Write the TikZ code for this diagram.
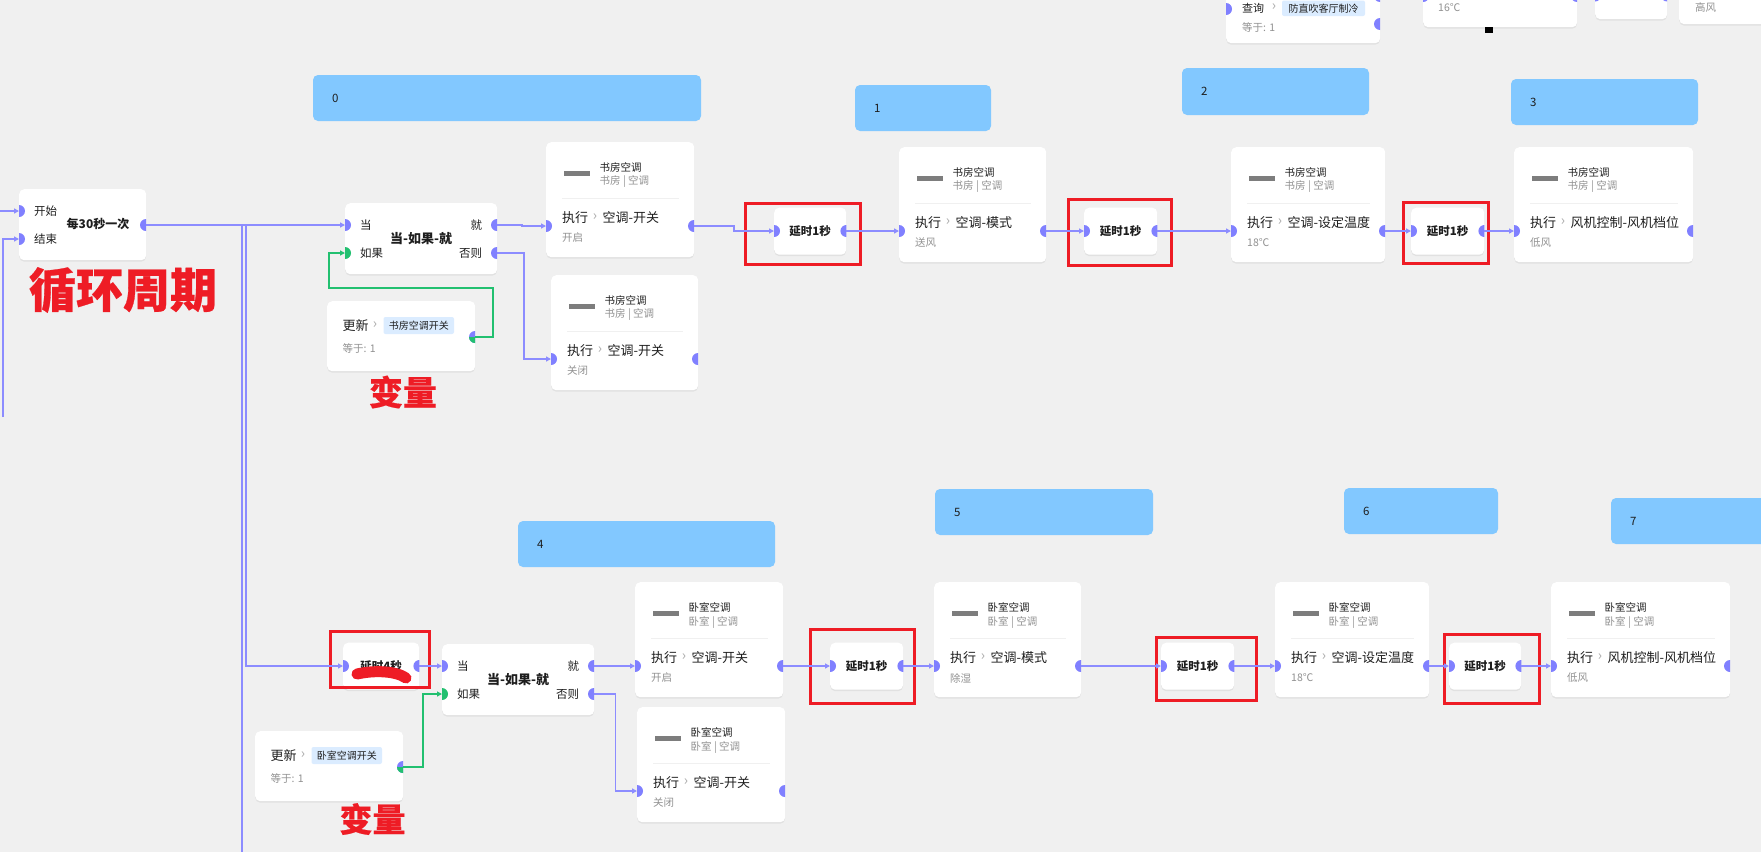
\documentclass[tikz,border=0pt]{standalone}
\usepackage{fontspec}
\setmainfont{Noto Sans CJK SC}
\usetikzlibrary{arrows.meta,shadows,calc}
\definecolor{bgc}{RGB}{240,240,240}
\definecolor{portc}{RGB}{128,128,255}
\definecolor{wirec}{RGB}{140,140,255}
\definecolor{greenc}{RGB}{34,192,112}
\definecolor{bluec}{RGB}{130,200,255}
\definecolor{redc}{RGB}{238,28,37}
\definecolor{chipc}{RGB}{219,236,255}
\definecolor{txtc}{RGB}{30,30,30}
\definecolor{grayc}{RGB}{145,145,145}
\definecolor{chevc}{RGB}{170,170,170}
\definecolor{sepc}{RGB}{240,240,240}
\definecolor{iconc}{RGB}{125,125,125}

\newcommand\pin[2][portc]{\begin{scope}\clip ([shift={(0,-6)}]#2) rectangle ([shift={(6,6)}]#2);\fill[#1] (#2) circle (6pt);\end{scope}}
\newcommand\pout[2][portc]{\begin{scope}\clip ([shift={(-6,-6)}]#2) rectangle ([shift={(0,6)}]#2);\fill[#1] (#2) circle (6pt);\end{scope}}
\newcommand\poutg[1]{\pout{#1}\begin{scope}\clip ([shift={(-6,0)}]#1) rectangle ([shift={(0,6)}]#1);\fill[greenc] (#1) circle (6pt);\end{scope}}

% device card: name, x, y, w, title, sub, action, value
\newcommand\devcard[8]{%
  \node[card, anchor=north west, minimum width=#4pt, minimum height=115pt] (#1) at (#2,#3) {};
  \fill[iconc] ([shift={(18,29)}]#1.north west) rectangle ([shift={(44,34)}]#1.north west);
  \node[ttl, anchor=west] (#1-t) at ([shift={(53.5,25)}]#1.north west) {#5};
  \node[val, anchor=west] (#1-s) at ([shift={(53.5,40)}]#1.north west) {#6};
  \draw[sepc, line width=1pt] ([shift={(16,56)}]#1.north west) -- ([shift={(-15,56)}]#1.north east);
  \node[act, anchor=west] (#1-x) at ([shift={(16,76)}]#1.north west) {执行};
  \node[chev] (#1-c) at ([shift={(49,75)}]#1.north west) {›};
  \node[act, anchor=west] (#1-a) at ([shift={(56.5,76)}]#1.north west) {#7};
  \node[val, anchor=west] (#1-v) at ([shift={(16,96)}]#1.north west) {#8};
  \coordinate (#1-in) at ([shift={(0,84)}]#1.north west);
  \coordinate (#1-out) at ([shift={(#4,84)}]#1.north west);
  \pin{#1-in}\pout{#1-out}}

% if node: name, x, y
\newcommand\ifnode[3]{%
  \node[card, anchor=north west, minimum width=152pt, minimum height=71pt] (#1) at (#2,#3) {};
  \node[lbl, anchor=west] (#1-a) at ([shift={(15,22)}]#1.north west) {当};
  \node[lbl, anchor=west] (#1-b) at ([shift={(15,50)}]#1.north west) {如果};
  \node[lbl, anchor=east] (#1-c) at ([shift={(-15,22)}]#1.north east) {就};
  \node[lbl, anchor=east] (#1-d) at ([shift={(-15,50)}]#1.north east) {否则};
  \node[bold13] (#1-m) at ([shift={(0,36)}]#1.north) {当-如果-就};
  \coordinate (#1-in1) at ([shift={(0,22)}]#1.north west);
  \coordinate (#1-in2) at ([shift={(0,50)}]#1.north west);
  \coordinate (#1-out1) at ([shift={(152,22)}]#1.north west);
  \coordinate (#1-out2) at ([shift={(152,50)}]#1.north west);
  \pin{#1-in1}\pin[greenc]{#1-in2}\pout{#1-out1}\pout{#1-out2}}

% delay node: name, x, y, w, text
\newcommand\delaynode[5]{%
  \node[card, anchor=north west, minimum width=#4pt, minimum height=47pt] (#1) at (#2,#3) {};
  \node[dtext] (#1-t) at ([shift={(0,23.5)}]#1.north) {#5};
  \coordinate (#1-in) at ([shift={(0,23.5)}]#1.north west);
  \coordinate (#1-out) at ([shift={(0,23.5)}]#1.north east);
  \pin{#1-in}\pout{#1-out}}

% update node: name, x, y, chip text
\newcommand\updnode[4]{%
  \node[card, anchor=north west, minimum width=148pt, minimum height=70pt] (#1) at (#2,#3) {};
  \node[act, anchor=west] (#1-a) at ([shift={(15.5,25)}]#1.north west) {更新};
  \node[chev] (#1-c) at ([shift={(48,24)}]#1.north west) {›};
  \fill[chipc, rounded corners=2pt] ([shift={(56.5,16)}]#1.north west) rectangle ([shift={(127,33)}]#1.north west);
  \node[chipt] (#1-p) at ([shift={(91.75,24.5)}]#1.north west) {#4};
  \node[val, anchor=west] (#1-v) at ([shift={(15.5,47)}]#1.north west) {等于: 1};
  \coordinate (#1-out) at ([shift={(148,36)}]#1.north west);
  \poutg{#1-out}}

% blue box: name, x1, y1, x2, y2, label
\newcommand\bluebox[6]{%
  \fill[bluec, rounded corners=5pt] (#2,#3) rectangle (#4,#5);
  \coordinate (#1) at (#2,{(#3+#5)/2});
  \node[lbl, anchor=west] (#1-l) at ([shift={(19,0)}]#1) {#6};}

\begin{document}
\begin{tikzpicture}[x=1pt,y=-1pt,
  card/.style={fill=white, rounded corners=5pt, inner sep=0pt, draw=none,
    drop shadow={shadow xshift=0pt, shadow yshift=-1.5pt, opacity=0.06, fill=black}},
  lbl/.style={inner sep=0pt, text=txtc, font=\fontsize{11.5}{13}\selectfont},
  act/.style={inner sep=0pt, text=txtc, font=\fontsize{13}{15}\selectfont},
  ttl/.style={inner sep=0pt, text=txtc, font=\fontsize{10.5}{12}\selectfont},
  val/.style={inner sep=0pt, text=grayc, font=\fontsize{10.5}{12}\selectfont},
  chev/.style={inner sep=0pt, text=chevc, font=\fontsize{14}{14}\selectfont},
  chipt/.style={inner sep=0pt, text=txtc, font=\fontsize{10}{12}\selectfont},
  bold12/.style={inner sep=0pt, text=txtc, font=\fontsize{12}{14}\selectfont\bfseries},
  bold13/.style={inner sep=0pt, text=txtc, font=\fontsize{13}{15}\selectfont\bfseries},
  dtext/.style={inner sep=0pt, text=txtc, font=\fontsize{11.5}{14}\selectfont\bfseries},
  redlbl/.style={inner sep=0pt, text=redc},
  wire/.style={draw=wirec, line width=1.3pt, -{Triangle[length=5pt,width=5pt]}},
  wireplain/.style={draw=wirec, line width=1.3pt},
  gwire/.style={draw=greenc, line width=1.3pt, -{Triangle[length=5pt,width=5pt]}},
  redbox/.style={draw=redc, line width=3pt}]
\clip (0,0) rectangle (1761,852);
\fill[bgc] (0,0) rectangle (1761,852);

% ---------- partial nodes at the top edge ----------
\node[card, anchor=north west, minimum width=154pt, minimum height=83pt] (qa) at (1226,-40) {};
\node[act, anchor=west, font=\fontsize{11}{13}\selectfont] (qa-a) at (1242,8) {查询};
\node[chev] (qa-c) at (1274,7) {›};
\fill[chipc, rounded corners=2pt] (1282,0.5) rectangle (1365,16);
\node[chipt] (qa-p) at (1323.5,8.5) {防直吹客厅制冷};
\node[val, anchor=west] (qa-v) at (1242,27) {等于: 1};
\coordinate (qa-in) at (1226,9);
\coordinate (qa-out1) at (1380,24);
\coordinate (qa-out2) at (1380,-4);
\pin{qa-in}\pout{qa-out1}\pout{qa-out2}
\node[card, anchor=north west, minimum width=154pt, minimum height=67pt] (qb) at (1423,-40) {};
\node[val, anchor=west] (qb-v) at (1438,8) {16℃};
\coordinate (qb-in) at (1423,-4);
\coordinate (qb-out) at (1577,-4);
\pin{qb-in}\pout{qb-out}
\node[card, anchor=north west, minimum width=72pt, minimum height=47pt] (qc) at (1595,-28) {};
\coordinate (qc-in) at (1595,-4.5);
\coordinate (qc-out) at (1667,-4.5);
\pin{qc-in}\pout{qc-out}
\node[card, anchor=north west, minimum width=110pt, minimum height=64pt] (qd) at (1679,-40) {};
\node[val, anchor=west] (qd-v) at (1695,7) {高风};
\fill[black] (1485,27) rectangle (1493,33);

% ---------- blue boxes ----------
\bluebox{b0}{313}{75}{701}{121}{0}
\bluebox{b1}{855}{85}{991}{131}{1}
\bluebox{b2}{1182}{68}{1369}{115}{2}
\bluebox{b3}{1511}{79}{1698}{125}{3}
\bluebox{b4}{518}{521}{775}{567}{4}
\bluebox{b5}{935}{489}{1153}{535}{5}
\bluebox{b6}{1344}{488}{1498}{534}{6}
\bluebox{b7}{1611}{498}{1800}{544}{7}

% ---------- loop node ----------
\node[card, anchor=north west, minimum width=127pt, minimum height=71pt] (loop) at (19,189) {};
\node[lbl, anchor=west] (loop-a) at ([shift={(15,22)}]loop.north west) {开始};
\node[lbl, anchor=west] (loop-b) at ([shift={(15,50)}]loop.north west) {结束};
\node[bold12] (loop-m) at ([shift={(79,35)}]loop.north west) {每30秒一次};
\coordinate (loop-in1) at ([shift={(0,22)}]loop.north west);
\coordinate (loop-in2) at ([shift={(0,50)}]loop.north west);
\coordinate (loop-out) at ([shift={(127,36)}]loop.north west);
\pin{loop-in1}\pin{loop-in2}\pout{loop-out}
\node[redlbl, font=\fontsize{47}{47}\selectfont\bfseries\addfontfeatures{FakeBold=0.6}] (cycle) at (123,290) {循环周期};

% ---------- upper chain ----------
\ifnode{if1}{345}{203}
\updnode{upd1}{327}{301}{书房空调开关}
\node[redlbl, font=\fontsize{34}{34}\selectfont\bfseries\addfontfeatures{FakeBold=0.4}] (var1) at (403,392) {变量};
\devcard{d1}{546}{142}{148}{书房空调}{书房 | 空调}{空调-开关}{开启}
\devcard{d2}{551}{275}{147}{书房空调}{书房 | 空调}{空调-开关}{关闭}
\delaynode{D1}{774}{207.5}{72}{延时1秒}
\devcard{d3}{899}{147}{147}{书房空调}{书房 | 空调}{空调-模式}{送风}
\delaynode{D2}{1084}{207.5}{73}{延时1秒}
\devcard{d4}{1231}{147}{154}{书房空调}{书房 | 空调}{空调-设定温度}{18℃}
\delaynode{D3}{1411}{207.5}{73}{延时1秒}
\devcard{d5}{1514}{147}{179}{书房空调}{书房 | 空调}{风机控制-风机档位}{低风}

% ---------- lower chain ----------
\delaynode{D4}{343}{642.5}{76}{延时4秒}
\draw[redc, line width=11pt, line cap=round] (357,674) .. controls (375,670) and (396,671) .. (406,678);
\ifnode{if2}{442}{644}
\updnode{upd2}{255}{731}{卧室空调开关}
\node[redlbl, font=\fontsize{33}{33}\selectfont\bfseries\addfontfeatures{FakeBold=0.4}] (var2) at (372.5,819) {变量};
\devcard{d6}{635}{582}{148}{卧室空调}{卧室 | 空调}{空调-开关}{开启}
\devcard{d7}{637}{707}{148}{卧室空调}{卧室 | 空调}{空调-开关}{关闭}
\delaynode{D5}{830}{642.5}{73}{延时1秒}
\devcard{d8}{934}{582}{147}{卧室空调}{卧室 | 空调}{空调-模式}{除湿}
\delaynode{D6}{1161}{642.5}{73}{延时1秒}
\devcard{d9}{1275}{582}{154}{卧室空调}{卧室 | 空调}{空调-设定温度}{18℃}
\delaynode{D7}{1449}{642.5}{72}{延时1秒}
\devcard{d10}{1551}{582}{179}{卧室空调}{卧室 | 空调}{风机控制-风机档位}{低风}

% ---------- red frames ----------
\draw[redbox] (745,203) rectangle (860,264);
\draw[redbox] (1068,199) rectangle (1171,265);
\draw[redbox] (1403,202) rectangle (1488,263);
\draw[redbox] (330,631) rectangle (429,687);
\draw[redbox] (810,629) rectangle (914,703);
\draw[redbox] (1156,637) rectangle (1256,700);
\draw[redbox] (1444,634) rectangle (1539,703);

% ---------- connectors ----------
\coordinate (s1) at (0,211);
\coordinate (s2) at (3,417);
\coordinate (j1) at (242,225);
\coordinate (j2) at (246,225);
\coordinate (bot) at (242,852);
\draw[wire] (s1) -- (loop-in1);
\draw[wire] (s2) |- (loop-in2);
\draw[wire] (loop-out) -- (if1-in1);
\draw[wireplain] (j1) -- (bot);
\draw[wire] (j2) |- (D4-in);
\draw[wire] (if1-out1) -- ++(25,0) |- (d1-in);
\draw[wire] (if1-out2) -- ++(27,0) |- (d2-in);
\draw[gwire] (upd1-out) -- ++(18,0) |- ([shift={(-16,35)}]if1-in2) |- (if1-in2);
\draw[wire] (d1-out) -- ++(40,0) |- (D1-in);
\draw[wire] (D1-out) -- (d3-in);
\draw[wire] (d3-out) -- (D2-in);
\draw[wire] (D2-out) -- (d4-in);
\draw[wire] (d4-out) -- (D3-in);
\draw[wire] (D3-out) -- (d5-in);
\draw[wire] (D4-out) -- (if2-in1);
\draw[gwire] (upd2-out) -- ++(20,0) |- (if2-in2);
\draw[wire] (if2-out1) -- (d6-in);
\draw[wire] (if2-out2) -- ++(21.5,0) |- (d7-in);
\draw[wire] (d6-out) -- (D5-in);
\draw[wire] (D5-out) -- (d8-in);
\draw[wire] (d8-out) -- (D6-in);
\draw[wire] (D6-out) -- (d9-in);
\draw[wire] (d9-out) -- (D7-in);
\draw[wire] (D7-out) -- (d10-in);
\end{tikzpicture}
\end{document}
